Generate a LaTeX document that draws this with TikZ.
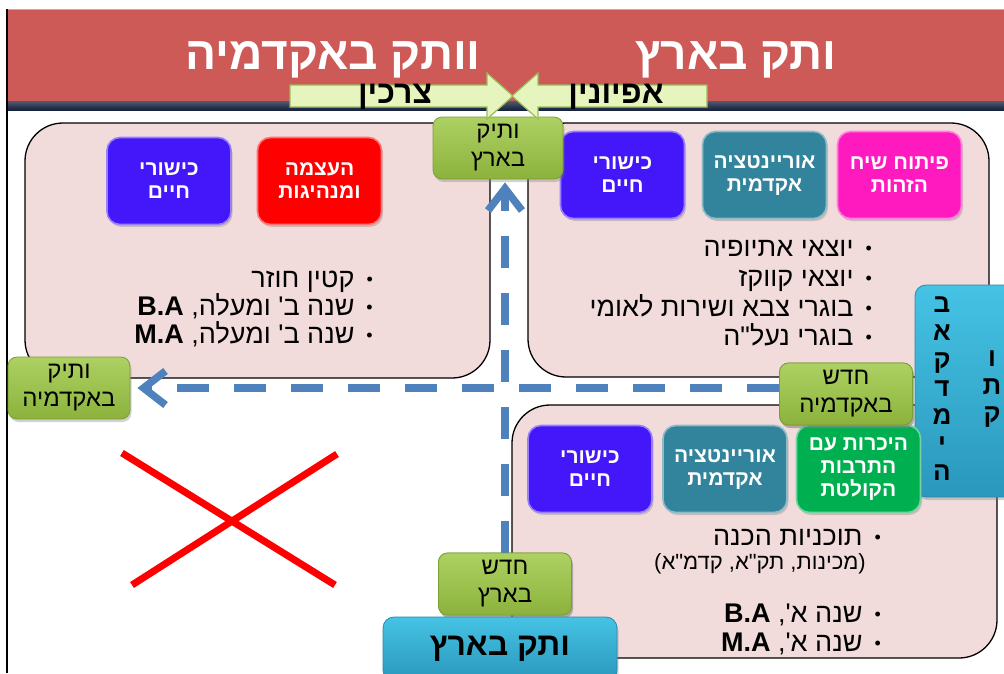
\documentclass[tikz,border=0pt]{standalone}
\usepackage{fontspec}
\newfontfamily\heb[Script=Hebrew]{Liberation Sans}
\TeXXeTstate=1
\usetikzlibrary{arrows.meta,shadows,calc}
\newcommand\RL[1]{\beginR#1\endR}
\newcommand\bitem[1]{\beginR{\fontsize{18}{18}\selectfont\raisebox{2pt}{•}}\hspace{12pt}#1\endR}
\definecolor{bannerred}{HTML}{CD5A56}
\definecolor{navy}{HTML}{16223E}
\definecolor{pinkbg}{HTML}{F2DCDB}
\definecolor{sqpurple}{HTML}{4416FA}
\definecolor{sqred}{HTML}{FF0000}
\definecolor{sqteal}{HTML}{31849B}
\definecolor{sqpink}{HTML}{FF1ABF}
\definecolor{sqgreen}{HTML}{00B050}
\definecolor{gtop}{HTML}{ADD162}
\definecolor{gbot}{HTML}{8CB23D}
\definecolor{gedge}{HTML}{7C9E36}
\definecolor{btop}{HTML}{45C3E4}
\definecolor{bbot}{HTML}{2A97BC}
\definecolor{bedge}{HTML}{2A89AC}
\definecolor{dashblue}{HTML}{4F81BD}
\definecolor{arrfill}{HTML}{E6F5BE}
\definecolor{arredge}{HTML}{9BBB59}
\begin{document}
\begin{tikzpicture}[x=1pt,y=-1pt,
  cont/.style={draw=black, line width=1.3pt, fill=pinkbg, rounded corners=38pt, inner sep=0pt},
  sq/.style={fill=#1, draw=#1!55!white, line width=1.6pt, rounded corners=13pt, minimum width=124pt, minimum height=87pt, inner sep=0pt, text=white, align=center, font=\heb\bfseries\fontsize{21}{23}\selectfont, drop shadow={opacity=0.35, shadow xshift=1.5pt, shadow yshift=-2.5pt}},
  gbox/.style={top color=gtop, bottom color=gbot, draw=gedge, line width=0.8pt, rounded corners=9pt, minimum height=62pt, inner sep=0pt, align=center, text=black, font=\heb\fontsize{24}{28}\selectfont, drop shadow={opacity=0.35, shadow xshift=1.5pt, shadow yshift=-3pt}},
  bbox/.style={top color=btop, bottom color=bbot, draw=bedge, line width=0.8pt, rounded corners=11pt, inner sep=0pt, drop shadow={opacity=0.35, shadow xshift=1.5pt, shadow yshift=-3pt}},
  btxt/.style={font=\heb\fontsize{27}{30}\selectfont, anchor=base east, inner sep=0pt, text=black},
  dasharr/.style={draw=dashblue, line width=7.5pt, dash pattern=on 32pt off 25pt, -{Straight Barb[length=22pt,width=34pt]}},
  banarrow/.style={fill=arrfill, draw=arredge, line width=1.2pt},
  arrtxt/.style={font=\heb\bfseries\fontsize{32}{32}\selectfont, text=black, inner sep=0pt},
  vtxt/.style={font=\heb\bfseries\fontsize{26}{28}\selectfont, align=center, inner sep=0pt, text=black},
]
\useasboundingbox (0,0) rectangle (1004,673);
\fill[white] (0,0) rectangle (1004,673);
% banner
\fill[bannerred] (8,10) rectangle (1004,101);
\shade[top color=navy!75, bottom color=navy] (8,101) rectangle (1004,110);
\draw[gray!60, line width=1pt] (8,9.5) -- (1004,9.5);
\draw[black, line width=1.6pt] (7,9) -- (7,673);
\node[font=\heb\bfseries\fontsize{46}{46}\selectfont, text=white] (t1) at (736,60) {\RL{ותק בארץ}};
\node[font=\heb\bfseries\fontsize{46}{46}\selectfont, text=white] (t2) at (333,60) {\RL{וותק באקדמיה}};

% containers
\node[cont, minimum width=465pt, minimum height=255pt] (lc) at (257.5,250.5) {};
\node[cont, minimum width=461pt, minimum height=254pt] (rtc) at (758.5,250) {};
\node[cont, minimum width=485pt, minimum height=253pt] (rbc) at (754.5,531.5) {};

% vertical blue bar
\node[bbox, minimum width=100pt, minimum height=212pt] (bar) at (965,391) {};
\node[vtxt] (barl) at (942,389) {\RL{ב}\\\RL{א}\\\RL{ק}\\\RL{ד}\\\RL{מ}\\\RL{י}\\\RL{ה}};
\node[vtxt] (barr) at (992,389) {\RL{ו}\\\RL{ת}\\\RL{ק}};

% squares
\node[sq=sqpurple] (l1) at (169,181) {\RL{כישורי}\\\RL{חיים}};
\node[sq=sqred] (l2) at (319.5,181) {\RL{העצמה}\\\RL{ומנהיגות}};
\node[sq=sqpurple] (r1) at (622.5,175) {\RL{כישורי}\\\RL{חיים}};
\node[sq=sqteal] (r2) at (764.5,175) {\RL{אוריינטציה}\\\RL{אקדמית}};
\node[sq=sqpink] (r3) at (899.5,175) {\RL{פיתוח שיח}\\\RL{הזהות}};
\node[sq=sqpurple] (b1) at (590,469) {\RL{כישורי}\\\RL{חיים}};
\node[sq=sqteal] (b2) at (725,469) {\RL{אוריינטציה}\\\RL{אקדמית}};
\node[sq=sqgreen] (b3) at (858.5,469) {\RL{היכרות עם}\\\RL{התרבות}\\\RL{הקולטת}};

% bullet lists
\node[btxt] (lb1) at (373,287) {\bitem{קטין חוזר}};
\node[btxt] (lb2) at (373,315) {\bitem{שנה ב' ומעלה, \beginL\textbf{B.A}\endL}};
\node[btxt] (lb3) at (373,343) {\bitem{שנה ב' ומעלה, \beginL\textbf{M.A}\endL}};
\node[btxt] (rb1) at (872,256) {\bitem{יוצאי אתיופיה}};
\node[btxt] (rb2) at (872,286) {\bitem{יוצאי קווקז}};
\node[btxt] (rb3) at (872,316) {\bitem{בוגרי צבא ושירות לאומי}};
\node[btxt] (rb4) at (872,345) {\bitem{בוגרי נעל"ה}};
\node[btxt] (bb1) at (881,545) {\bitem{תוכניות הכנה}};
\node[font=\heb\fontsize{22}{24}\selectfont, anchor=base, inner sep=0pt] (bpar) at (760,569) {\RL{(מכינות, תק"א, קדמ"א)}};
\node[btxt] (bb2) at (881,622) {\bitem{שנה א', \beginL\textbf{B.A}\endL}};
\node[btxt] (bb3) at (881,651) {\bitem{שנה א', \beginL\textbf{M.A}\endL}};

% green boxes
\node[gbox, minimum width=130pt] (vb) at (498,148) {\RL{ותיק}\\\RL{בארץ}};
\node[gbox, minimum width=122pt] (vta) at (69,388) {\RL{ותיק}\\\RL{באקדמיה}};
\node[gbox, minimum width=133pt] (cha) at (846,394) {\RL{חדש}\\\RL{באקדמיה}};
\node[gbox, minimum width=133pt] (chb) at (505,584) {\RL{חדש}\\\RL{בארץ}};

% dashed arrows
\draw[dasharr] (chb.north) -- ($(chb.north |- vb.south)+(0,3)$);
\draw[dasharr] (cha.west |- vta.east) -- ($(vta.east)+(7,0)$);
% boxes stay above the dashes
\node[gbox, minimum width=133pt] at (846,394) {\RL{חדש}\\\RL{באקדמיה}};
\node[gbox, minimum width=133pt] at (505,584) {\RL{חדש}\\\RL{בארץ}};

% bottom blue box
\node[bbox, minimum width=234pt, minimum height=64pt, font=\heb\bfseries\fontsize{32}{32}\selectfont, text=black] (bb) at (500,649) {\RL{ותק בארץ}};

% banner arrows
\path[banarrow] (290,85) -- (487,85) -- (487,73) -- (513,96) -- (487,119) -- (487,107) -- (290,107) -- cycle;
\path[banarrow] (707,85) -- (538,85) -- (538,73) -- (512,96) -- (538,119) -- (538,107) -- (707,107) -- cycle;
\node[arrtxt] (a1) at (395,97) {\RL{צרכין}};
\node[arrtxt] (a2) at (616,97) {\RL{אפיונין}};

% red cross
\draw[red, line width=7pt] (122,453) -- (335,585);
\draw[red, line width=7pt] (132,585) -- (337,454);
\end{tikzpicture}
\end{document}
